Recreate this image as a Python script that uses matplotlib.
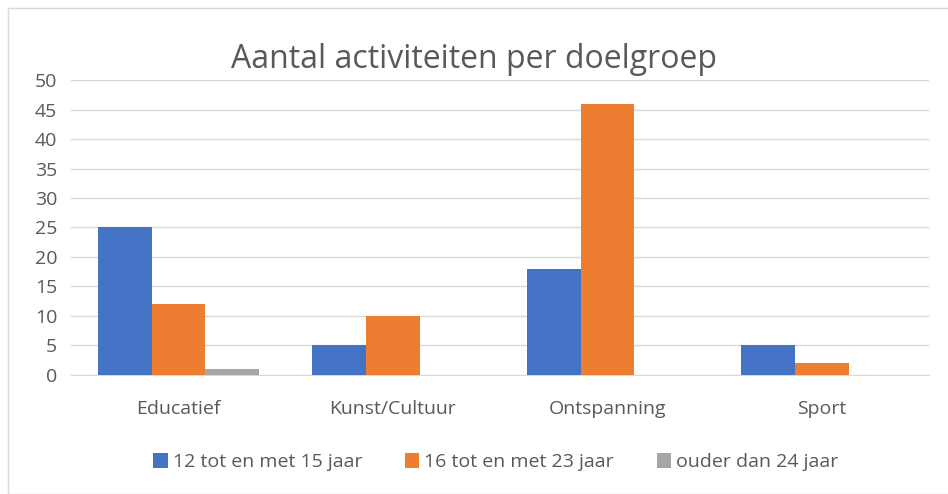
import numpy as np
import matplotlib.pyplot as plt
from matplotlib.patches import Rectangle

categorieen = ['Educatief', 'Kunst/Cultuur', 'Ontspanning', 'Sport']
reeksen = ['12 tot en met 15 jaar', '16 tot en met 23 jaar', 'ouder dan 24 jaar']
jong = [25, 5, 18, 5]
midden = [12, 10, 46, 2]
ouder = [1, 0, 0, 0]
kleuren = ['#4472C4', '#ED7D31', '#A5A5A5']

plt.rcParams['font.family'] = ['Open Sans', 'DejaVu Sans']
tekst = '#595959'

fig = plt.figure(figsize=(9.48, 4.94), dpi=100)
ax = fig.add_axes([0.075, 0.241, 0.905, 0.597])

x = np.arange(len(categorieen))
breedte = 0.25
for i, (waarden, naam) in enumerate(zip([jong, midden, ouder], reeksen)):
    ax.bar(x + (i - 1) * breedte, waarden, breedte, color=kleuren[i], label=naam, zorder=3)

ax.set_xlim(-0.5, len(categorieen) - 0.5)
ax.set_ylim(0, 50)
ax.set_yticks(np.arange(0, 51, 5))
ax.set_xticks(x)
ax.set_xticklabels(categorieen)
ax.tick_params(axis='both', length=0, labelsize=14, colors=tekst)
ax.tick_params(axis='x', pad=18)
ax.tick_params(axis='y', pad=10)
ax.grid(axis='y', color='#D9D9D9', linewidth=1, zorder=0)
for s in ['top', 'right', 'left']:
    ax.spines[s].set_visible(False)
ax.spines['bottom'].set_color('#D9D9D9')

fig.text(0.5, 0.88, 'Aantal activiteiten per doelgroep', ha='center', va='center',
         fontsize=23, color=tekst)

fig.legend(loc='center', bbox_to_anchor=(0.523, 0.064), ncol=3, frameon=False,
           fontsize=14, labelcolor=tekst, handlelength=0.75, handleheight=0.75,
           handletextpad=0.25, columnspacing=2.2)

# rand rond de grafiek
fig.patches.append(Rectangle((8 / 948, 0.0), 1.0, 1 - 8 / 494, transform=fig.transFigure,
                             fill=False, edgecolor='#D9D9D9', linewidth=1))

fig.savefig('out.png', dpi=100)
